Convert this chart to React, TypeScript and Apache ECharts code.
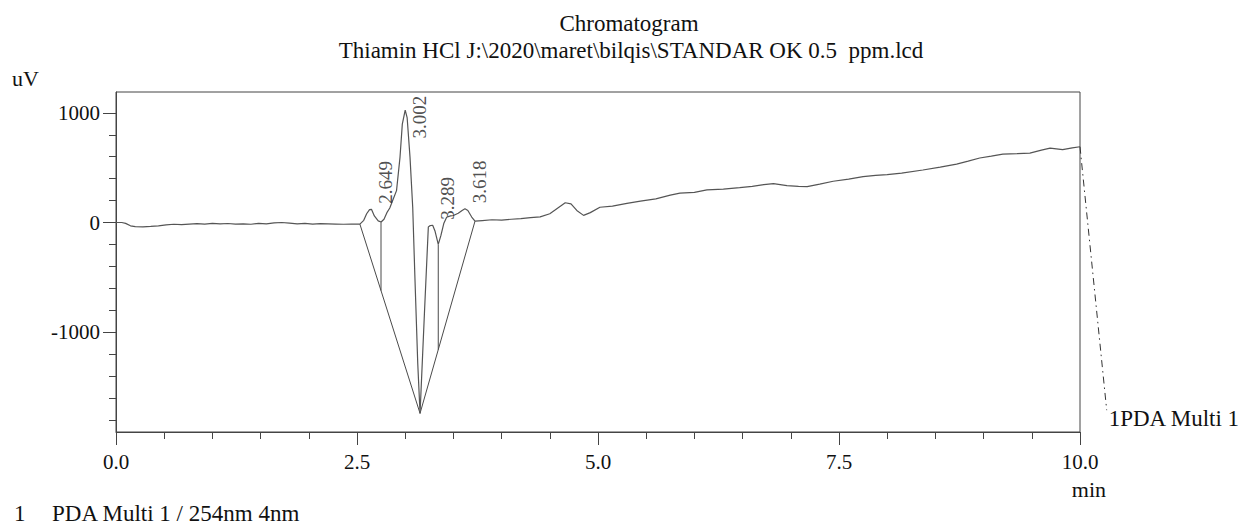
import React, { useEffect, useRef } from "react";
import * as echarts from "echarts";

// ---- data ----
const retentionTime = [
  0.0, 0.06, 0.1, 0.15, 0.2, 0.28, 0.36, 0.44, 0.52, 0.6, 0.68, 0.76, 0.84, 0.92, 1.0, 1.08, 1.16, 1.24, 1.32, 1.4,
  1.48, 1.56, 1.64, 1.72, 1.8, 1.88, 1.96, 2.04, 2.12, 2.2, 2.28, 2.36, 2.44, 2.53,
  2.57, 2.6, 2.63, 2.65, 2.68, 2.72, 2.75, 2.78, 2.81, 2.84, 2.87, 2.91, 2.946, 2.97, 3.0, 3.02, 3.05, 3.078,
  3.1, 3.13, 3.154, 3.2, 3.24, 3.26, 3.285, 3.31, 3.343, 3.37, 3.4, 3.43, 3.47, 3.5, 3.55, 3.59, 3.62, 3.65, 3.69, 3.724,
  3.8, 3.9, 4.0, 4.1, 4.2, 4.3, 4.4, 4.5, 4.58, 4.66, 4.72, 4.78, 4.85, 4.92, 5.02, 5.15, 5.3, 5.44, 5.6, 5.75,
  5.85, 6.0, 6.13, 6.3, 6.47, 6.6, 6.72, 6.82, 6.96, 7.08, 7.17, 7.3, 7.44, 7.6, 7.75, 7.88, 8.0, 8.15, 8.37,
  8.55, 8.72, 8.84, 8.96, 9.08, 9.2, 9.35, 9.48, 9.6, 9.69, 9.82, 9.92, 10.0,
];
const signalUV = [
  0, 0, -8, -30, -38, -40, -36, -30, -22, -16, -20, -14, -10, -14, -8, -12, -9, -15, -12, -16,
  -8, -12, -4, 0, -6, -12, -8, -14, -10, -12, -14, -16, -14, -15,
  20, 80, 118, 120, 60, 15, 5, 30, 90, 132, 200, 291, 594, 897, 1024, 957, 594, 139,
  -480, -1280, -1740, -818, -40, -28, -25, -80, -200, -120, -10, 48, 60, 64, 85, 110, 125, 110, 50, 12,
  18, 25, 22, 30, 35, 45, 51, 80, 130, 180, 170, 110, 65, 90, 139, 150, 175, 195, 215, 250,
  268, 275, 297, 305, 318, 330, 345, 355, 336, 330, 327, 350, 376, 395, 418, 430, 436, 450, 479,
  505, 533, 560, 588, 605, 624, 628, 633, 660, 679, 664, 680, 691,
];

// integration baseline (V shape) and drop lines
const baseLineT = [2.53, 3.154, 3.724];
const baseLineV = [-15, -1740, 12];
const dropLineT = [2.749, 3.343];
const dropLineTop = [3, -200];
const dropLineBottom = [-620, -1159];

// peak retention times and apex heights
const peakTimes = [2.649, 3.002, 3.289, 3.618];
const peakHeights = [120, 1024, -25, 125];

// trace-end leader to the channel label
const leaderT = [10.0, 10.277];
const leaderV = [691, -1711];
const channelLabel = "1PDA Multi 1";

const yMajorTicks = [-1000, 0, 1000];
const yMinorTicks = [-1800, -1600, -1400, -1200, -1000, -800, -600, -400, -200, 0, 200, 400, 600, 800, 1000];

const Y_MIN = -1910;
const Y_MAX = 1190;

const FONT = "'Liberation Serif', 'Times New Roman', serif";

export default function App() {
  const ref = useRef<HTMLDivElement>(null);

  useEffect(() => {
    if (!ref.current) return;
    const chart = echarts.init(ref.current, undefined, { renderer: "svg" });

    const gridTop = 92;
    const gridBottomPx = 432;
    const plotH = gridBottomPx - gridTop;
    const valToPx = (v: number) => gridTop + ((Y_MAX - v) / (Y_MAX - Y_MIN)) * plotH;
    const labelLen = 42;

    const trace = retentionTime.map((t, i) => [t, signalUV[i]]);
    const baseLine = baseLineT.map((t, i) => [t, baseLineV[i]]);

    const peakData = peakTimes.map((t, i) => {
      const apexPx = valToPx(peakHeights[i]);
      let dy = -5;
      const topPx = apexPx + dy - labelLen;
      if (topPx < gridTop + 5) dy = gridTop + 5 + labelLen - apexPx;
      return {
        value: [t, peakHeights[i]],
        label: { position: [15, dy] },
      };
    });

    const lineCol = "#4a4a4a";
    const axisCol = "#444";

    const dropSeries = dropLineT.map((t, i) => ({
      type: "line",
      data: [
        [t, dropLineTop[i]],
        [t, dropLineBottom[i]],
      ],
      showSymbol: false,
      symbol: "none",
      lineStyle: { color: lineCol, width: 1 },
      silent: true,
      z: 3,
    }));

    const staticGraphics: any[] = [
      {
        type: "text",
        x: 629,
        y: 23,
        style: { text: "Chromatogram", font: `23px ${FONT}`, fill: "#111", textAlign: "center", textVerticalAlign: "middle" },
      },
      {
        type: "text",
        x: 631,
        y: 50,
        style: {
          text: "Thiamin HCl J:\\2020\\maret\\bilqis\\STANDAR OK 0.5  ppm.lcd",
          font: `23px ${FONT}`,
          fill: "#111",
          textAlign: "center",
          textVerticalAlign: "middle",
        },
      },
      {
        type: "text",
        x: 12,
        y: 78,
        style: { text: "uV", font: `22px ${FONT}`, fill: "#111", textVerticalAlign: "middle" },
      },
      {
        type: "text",
        x: 1106,
        y: 489,
        style: { text: "min", font: `22px ${FONT}`, fill: "#111", textAlign: "right", textVerticalAlign: "middle" },
      },
      {
        type: "text",
        x: 14,
        y: 513,
        style: { text: "1", font: `23px ${FONT}`, fill: "#111", textVerticalAlign: "middle" },
      },
      {
        type: "text",
        x: 52,
        y: 513,
        style: { text: "PDA Multi 1 / 254nm 4nm", font: `23px ${FONT}`, fill: "#111", textVerticalAlign: "middle" },
      },
    ];

    chart.setOption({
      animation: false,
      backgroundColor: "#ffffff",
      textStyle: { fontFamily: FONT },
      grid: {
        left: 116,
        right: 1241 - 1080,
        top: gridTop,
        bottom: 525 - gridBottomPx,
        show: true,
        borderColor: axisCol,
        borderWidth: 1,
        backgroundColor: "transparent",
      },
      xAxis: {
        type: "value",
        min: 0,
        max: 10,
        interval: 2.5,
        axisLine: { show: true, onZero: false, lineStyle: { color: axisCol, width: 1 } },
        axisTick: { show: true, inside: false, length: 13, lineStyle: { color: axisCol } },
        minorTick: { show: true, splitNumber: 5, length: 7, lineStyle: { color: axisCol } },
        splitLine: { show: false },
        minorSplitLine: { show: false },
        axisLabel: {
          formatter: (v: number) => v.toFixed(1),
          fontFamily: FONT,
          fontSize: 21,
          color: "#111",
          margin: 19,
        },
      },
      yAxis: [
        {
          type: "value",
          min: Y_MIN,
          max: Y_MAX,
          position: "left",
          axisLine: { show: true, onZero: false, lineStyle: { color: axisCol, width: 1 } },
          axisTick: { show: true, length: 7, lineStyle: { color: axisCol }, customValues: yMinorTicks },
          axisLabel: { show: false },
          splitLine: { show: false },
        },
        {
          type: "value",
          min: Y_MIN,
          max: Y_MAX,
          position: "left",
          axisLine: { show: false, onZero: false },
          axisTick: { show: true, length: 13, lineStyle: { color: axisCol }, customValues: yMajorTicks },
          axisLabel: {
            customValues: yMajorTicks,
            formatter: (v: number) => String(v),
            fontFamily: FONT,
            fontSize: 21,
            color: "#111",
            margin: 16,
          },
          splitLine: { show: false },
        },
      ],
      series: [
        {
          type: "line",
          data: trace,
          showSymbol: false,
          symbol: "none",
          lineStyle: { color: "#555", width: 1.2 },
          silent: true,
          z: 4,
        },
        {
          type: "line",
          data: baseLine,
          showSymbol: false,
          symbol: "none",
          lineStyle: { color: lineCol, width: 1 },
          silent: true,
          z: 3,
        },
        ...dropSeries,
        {
          type: "scatter",
          data: peakData,
          symbolSize: 1,
          itemStyle: { color: "rgba(0,0,0,0)" },
          silent: true,
          z: 5,
          label: {
            show: true,
            rotate: 90,
            align: "left",
            verticalAlign: "middle",
            fontFamily: FONT,
            fontSize: 19,
            color: "#222",
            formatter: (p: any) => p.value[0].toFixed(3),
          },
        },
      ],
      graphic: staticGraphics,
    });

    // leader line from the trace end to the channel label, positioned through the axes' scales
    const p0 = chart.convertToPixel({ gridIndex: 0 }, [leaderT[0], leaderV[0]]) as number[];
    const p1 = chart.convertToPixel({ gridIndex: 0 }, [leaderT[1], leaderV[1]]) as number[];
    if (p0 && p1) {
      chart.setOption({
        graphic: [
          ...staticGraphics,
          {
            type: "line",
            shape: { x1: p0[0], y1: p0[1], x2: p1[0], y2: p1[1] },
            style: { stroke: "#333", lineWidth: 1, lineDash: [7, 4, 1.5, 4] },
            z: 10,
          },
          {
            type: "text",
            x: p1[0] + 2,
            y: p1[1] + 8,
            style: { text: channelLabel, font: `23px ${FONT}`, fill: "#111", textVerticalAlign: "middle" },
            z: 10,
          },
        ],
      });
    }

    return () => chart.dispose();
  }, []);

  return (
    <div
      ref={ref}
      style={{ position: "fixed", left: 0, top: 0, width: 1241, height: 525, background: "#fff" }}
    />
  );
}
